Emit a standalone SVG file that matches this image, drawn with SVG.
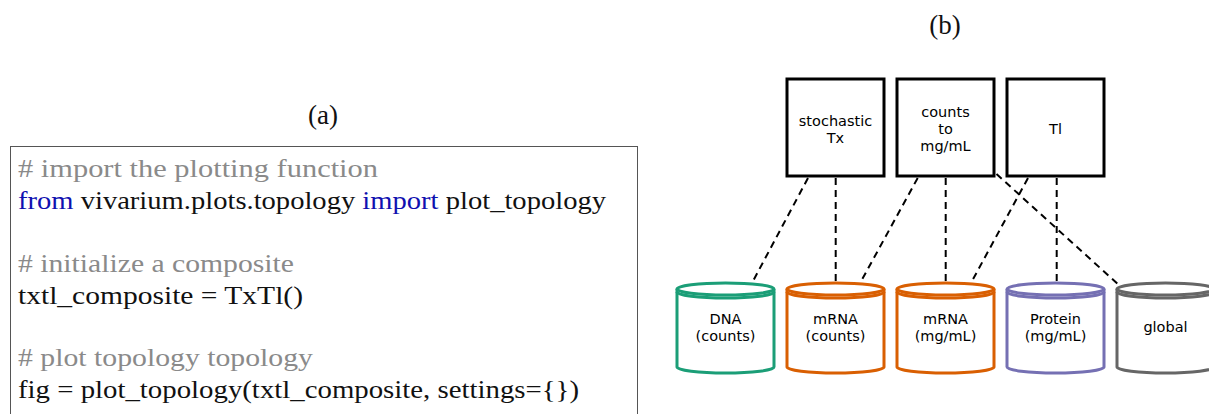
<svg xmlns="http://www.w3.org/2000/svg" width="1209" height="414" viewBox="0 0 1209 414">
<style>
.code{font-family:"Liberation Serif","DejaVu Serif",serif;font-size:25px;fill:#111}
.cm{fill:#8a8a8a}
.kw{fill:#1010b0}
.lbl{font-family:"Liberation Serif","DejaVu Serif",serif;font-size:27px;fill:#111;text-anchor:middle}
.nt{font-family:"DejaVu Sans","Liberation Sans",sans-serif;font-size:14.5px;fill:#000;text-anchor:middle}
.box{fill:#fff;stroke:#000;stroke-width:3}
.cyl{fill:none;stroke-width:3}
.edge{stroke:#000;stroke-width:2;stroke-dasharray:7 5;fill:none}
</style>
<rect width="1209" height="414" fill="#fff"/>
<g id="panel-a">
<text class="lbl" x="323" y="124">(a)</text>
<rect x="10.5" y="146.5" width="627" height="280" fill="none" stroke="#555" stroke-width="1"/>
<text class="code cm" x="18" y="177" textLength="360" lengthAdjust="spacingAndGlyphs"># import the plotting function</text>
<text class="code" x="18" y="209" textLength="588" lengthAdjust="spacingAndGlyphs"><tspan class="kw">from</tspan> vivarium.plots.topology <tspan class="kw">import</tspan> plot_topology</text>
<text class="code cm" x="18" y="272" textLength="276" lengthAdjust="spacingAndGlyphs"># initialize a composite</text>
<text class="code" x="18" y="304" textLength="285" lengthAdjust="spacingAndGlyphs">txtl_composite = TxTl()</text>
<text class="code cm" x="18" y="366" textLength="295" lengthAdjust="spacingAndGlyphs"># plot topology topology</text>
<text class="code" x="18" y="398" textLength="561" lengthAdjust="spacingAndGlyphs">fig = plot_topology(txtl_composite, settings={})</text>
</g>
<text class="lbl" x="945" y="34">(b)</text>
<g id="connectors">
<line class="edge" x1="808" y1="178" x2="752" y2="283"/>
<line class="edge" x1="835.7" y1="178" x2="835.7" y2="281"/>
<line class="edge" x1="917.7" y1="178" x2="860.7" y2="282"/>
<line class="edge" x1="945.7" y1="178" x2="945.7" y2="281"/>
<line class="edge" x1="996.5" y1="174" x2="1120" y2="286"/>
<line class="edge" x1="1028" y1="178" x2="971.5" y2="282"/>
<line class="edge" x1="1056.7" y1="178" x2="1056.7" y2="281"/>
</g>
<g id="node-stochastic-tx">
<rect class="box" x="787" y="79" width="97" height="97"/>
<text class="nt" x="835.5" y="126">stochastic</text>
<text class="nt" x="835.5" y="143">Tx</text>
</g>
<g id="node-counts-to-mgml">
<rect class="box" x="897" y="79" width="97" height="97"/>
<text class="nt" x="945.5" y="117">counts</text>
<text class="nt" x="945.5" y="134">to</text>
<text class="nt" x="945.5" y="151">mg/mL</text>
</g>
<g id="node-tl">
<rect class="box" x="1007" y="79" width="97" height="97"/>
<text class="nt" x="1055.5" y="134">Tl</text>
</g>
<g id="node-dna" stroke="#1b9e77">
<path class="cyl" d="M677,289 V367 A48.5 6 0 0 0 774,367 V289"/>
<ellipse class="cyl" cx="725.5" cy="289" rx="48.5" ry="6" fill="#fff"/>
<path class="cyl" d="M677,292 A48.5 6 0 0 0 774,292"/>
<text class="nt" x="725.5" y="324" stroke="none">DNA</text>
<text class="nt" x="725.5" y="341" stroke="none">(counts)</text>
</g>
<g id="node-mrna-counts" stroke="#d95f02">
<path class="cyl" d="M787,289 V367 A48.5 6 0 0 0 884,367 V289"/>
<ellipse class="cyl" cx="835.5" cy="289" rx="48.5" ry="6" fill="#fff"/>
<path class="cyl" d="M787,292 A48.5 6 0 0 0 884,292"/>
<text class="nt" x="835.5" y="324" stroke="none">mRNA</text>
<text class="nt" x="835.5" y="341" stroke="none">(counts)</text>
</g>
<g id="node-mrna-mgml" stroke="#d95f02">
<path class="cyl" d="M897,289 V367 A48.5 6 0 0 0 994,367 V289"/>
<ellipse class="cyl" cx="945.5" cy="289" rx="48.5" ry="6" fill="#fff"/>
<path class="cyl" d="M897,292 A48.5 6 0 0 0 994,292"/>
<text class="nt" x="945.5" y="324" stroke="none">mRNA</text>
<text class="nt" x="945.5" y="341" stroke="none">(mg/mL)</text>
</g>
<g id="node-protein" stroke="#7570b3">
<path class="cyl" d="M1007,289 V367 A48.5 6 0 0 0 1104,367 V289"/>
<ellipse class="cyl" cx="1055.5" cy="289" rx="48.5" ry="6" fill="#fff"/>
<path class="cyl" d="M1007,292 A48.5 6 0 0 0 1104,292"/>
<text class="nt" x="1055.5" y="324" stroke="none">Protein</text>
<text class="nt" x="1055.5" y="341" stroke="none">(mg/mL)</text>
</g>
<g id="node-global" stroke="#666666">
<path class="cyl" d="M1117,289 V367 A48.5 6 0 0 0 1214,367 V289"/>
<ellipse class="cyl" cx="1165.5" cy="289" rx="48.5" ry="6" fill="#fff"/>
<path class="cyl" d="M1117,292 A48.5 6 0 0 0 1214,292"/>
<text class="nt" x="1165.5" y="332" stroke="none">global</text>
</g>
</svg>
